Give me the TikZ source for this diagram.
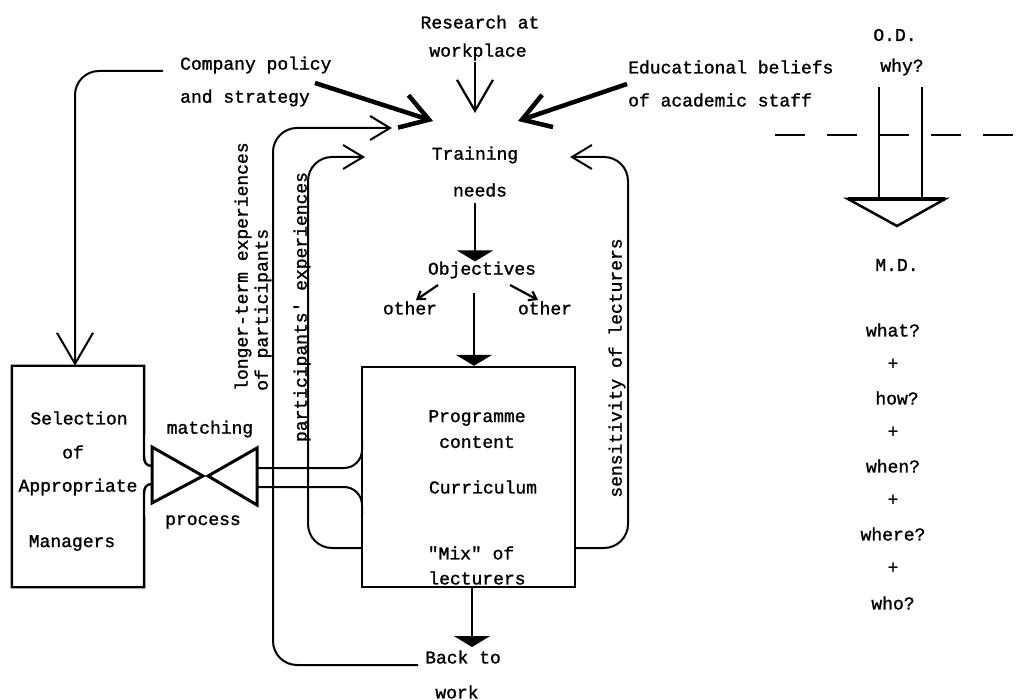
\documentclass[tikz,border=0pt]{standalone}
\usepackage{fontspec}
\newfontfamily\typewriter[FakeBold=1.3]{Liberation Mono}
\usetikzlibrary{arrows.meta}
\begin{document}
\begin{tikzpicture}[x=1pt,y=-1pt,
  every node/.style={font=\typewriter\fontsize{18}{20}\selectfont, inner sep=0pt},
  conn/.style={line width=2pt, rounded corners=24pt},
  boxline/.style={line width=2.4pt},
  heavy/.style={line width=4.5pt},
  stem/.style={line width=2.2pt},
  bigbarb/.style={-{Straight Barb[length=31pt,width=36pt]}},
  medbarb/.style={-{Straight Barb[length=27pt,width=34pt]}},
  loopbarb/.style={-{Straight Barb[length=20pt,width=24pt]}},
  tinybarb/.style={-{Straight Barb[length=7pt,width=10pt]}},
  flathead/.style={-{Triangle[length=11pt,width=36pt]}},
  valve/.style={line width=3pt, line join=miter},
]
\useasboundingbox (0,0) rectangle (1028,700);

% ---------- inputs at the top ----------
\node (research1) at (480,22) {Research at};
\node (research2) at (478,52) {workplace};
\node[anchor=west] (company1) at (180,65) {Company policy};
\node[anchor=west] (company2) at (180,98) {and strategy};
\node[anchor=west] (edu1) at (628,67) {Educational beliefs};
\node[anchor=west] (edu2) at (628,100) {of academic staff};

\coordinate (tipC) at (433,121);
\coordinate (tipR) at (475,113);
\coordinate (tipE) at (518,121);
\coordinate (cStart) at (315,83);
\coordinate (rStart) at (475,62);
\coordinate (eStart) at (627,84);

\draw[heavy, medbarb] (cStart) -- (tipC);
\draw[stem, bigbarb] (rStart) -- (tipR);
\draw[heavy, medbarb] (eStart) -- (tipE);

% ---------- central column ----------
\node (training) at (475,155) {Training};
\node (needs) at (480,190) {needs};
\node (objectives) at (482,270) {Objectives};
\node (otherL) at (410,308) {other};
\node (otherR) at (545,308) {other};

\node[draw, boxline, minimum width=213pt, minimum height=220pt] (prog) at (468.5,477) {};
\node (progA) at (477,418) {Programme};
\node (progB) at (477,442) {content};
\node (progC) at (483,487) {Curriculum};
\node (progD) at (471,553) {"Mix" of};
\node (progE) at (477,578) {lecturers};

\node (back1) at (463,657) {Back to};
\node (back2) at (457,692) {work};

\coordinate (nTop) at (475,203);
\draw[stem, flathead] (nTop) -- (nTop |- objectives.north);
\coordinate (oBottom) at (474,293);
\draw[stem, flathead] (oBottom) -- (oBottom |- prog.north);
\coordinate (oL) at (438,285);
\coordinate (oLend) at (416,300);
\coordinate (oR) at (510,285);
\coordinate (oRend) at (538,300);
\draw[stem, tinybarb] (oL) -- (oLend);
\draw[stem, tinybarb] (oR) -- (oRend);
\coordinate (pBottom) at (472,587);
\draw[stem, flathead] (pBottom) -- (472,647);

% ---------- feedback loops ----------
\coordinate (ltStart) at (418,665);
\coordinate (ltTip) at (392,128);
\draw[conn, loopbarb] (ltStart) -- (273,665) -- (273,128) -- (ltTip);

\coordinate (peStart) at (362,548);
\coordinate (peTip) at (365,157);
\draw[conn, loopbarb] (peStart) -- (308,548) -- (308,157) -- (peTip);

\coordinate (seStart) at (575,548);
\coordinate (seTip) at (570,157);
\draw[conn, loopbarb] (seStart) -- (628,548) -- (628,157) -- (seTip);

\node[rotate=90, anchor=west] (lt1) at (243,391) {longer-term experiences};
\node[rotate=90, anchor=west] (lt2) at (263,391) {of participants};
\node[rotate=90] (pe) at (302,307) {participants\textquotesingle{} experiences};
\node[rotate=90] (sens) at (617,368) {sensitivity of lecturers};

% ---------- selection box and matching process ----------
\node[minimum width=132pt, minimum height=221pt] (sel) at (78,476.5) {};
\node (selA) at (79,418) {Selection};
\node (selB) at (73,452) {of};
\node (selC) at (78,487) {Appropriate};
\node (selD) at (72,543) {Managers};

\coordinate (cpStart) at (163,71);
\coordinate (cpBend) at (75,71);
\draw[conn, bigbarb] (cpStart) -- (cpBend) -- (cpBend |- sel.north);

\draw[boxline] (152,466) .. controls (146,466) and (144,462) .. (144,456)
  -- (sel.north east) -- (sel.north west) -- (sel.south west) -- (sel.south east)
  -- (144,494) .. controls (144,488) and (146,484) .. (152,484);

\coordinate (vL1) at (152,447);
\coordinate (vL2) at (152,503);
\coordinate (vLt) at (203,476);
\coordinate (vR1) at (257,448);
\coordinate (vR2) at (257,505);
\coordinate (vRt) at (208,476);
\draw[valve] (vL1) -- (vL2) -- (vLt) -- cycle;
\draw[valve] (vR1) -- (vR2) -- (vRt) -- cycle;
\node (matching) at (210,429) {matching};
\node (process) at (203,522) {process};

\draw[conn, rounded corners=18pt] (257,468) -- (362,468) -- (362,440);
\draw[conn, rounded corners=18pt] (257,487) -- (362,487) -- (362,515);

% ---------- O.D. / M.D. column ----------
\node (od) at (895,35) {O.D.};
\node (why) at (902,67) {why?};
\coordinate (odL) at (879,87);
\coordinate (odR) at (922,87);
\draw[stem] (odL) -- (879,199);
\draw[stem] (odR) -- (922,199);
\draw[line width=2.5pt, dash pattern=on 30pt off 22pt] (775,135) -- (1028,135);
\draw[line width=2.5pt, line join=miter] (848,199) -- (945,199) -- (897,226) -- cycle;
\draw[line width=4pt] (848,199) -- (945,199);

\node (md) at (897,265) {M.D.};
\node (q1) at (893,330) {what?};
\node (p1) at (893,364) {+};
\node (q2) at (897,398) {how?};
\node (p2) at (893,432) {+};
\node (q3) at (893,466) {when?};
\node (p3) at (893,500) {+};
\node (q4) at (893,534) {where?};
\node (p4) at (893,568) {+};
\node (q5) at (893,603) {who?};
\end{tikzpicture}
\end{document}
